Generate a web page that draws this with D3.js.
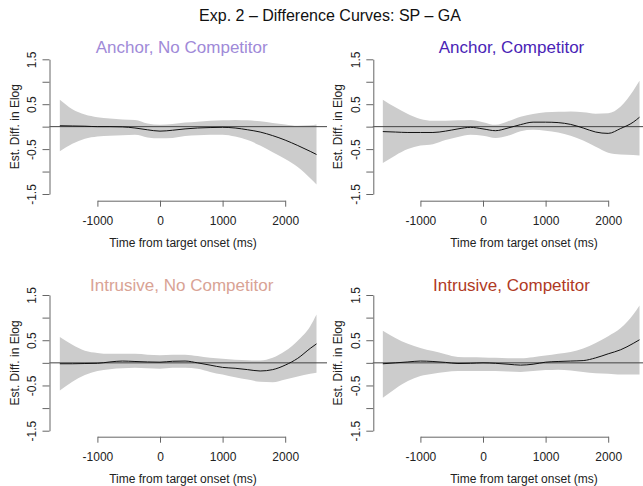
<!DOCTYPE html>
<html><head><meta charset="utf-8">
<script src="https://cdn.jsdelivr.net/npm/d3@7"></script>
<style>
body{margin:0;background:#fff;}
svg{display:block;}
text{font-family:"Liberation Sans",Arial,sans-serif;}
</style></head>
<body><svg id="chart" width="643" height="486"></svg>
<script>
// ---- data ----
const mainTitle = "Exp. 2 \u2013 Difference Curves: SP \u2013 GA";
const panelTitles = ["Anchor, No Competitor","Anchor, Competitor","Intrusive, No Competitor","Intrusive, Competitor"];
const panelColors = ["#a08ad8","#4a1fb6","#d9a395","#b03a25"];
const time = [-1600,-1400,-1200,-1000,-800,-600,-400,-200,0,200,400,600,800,1000,1200,1400,1600,1800,2000,2200,2400,2500];
// Anchor, No Competitor
const anFit = [0.02,0.015,0.01,0.0,0.0,-0.005,-0.03,-0.07,-0.1,-0.08,-0.05,-0.03,-0.02,-0.015,-0.03,-0.07,-0.12,-0.2,-0.3,-0.42,-0.55,-0.62];
const anUp  = [0.6,0.39,0.27,0.21,0.18,0.16,0.15,0.07,0.04,0.06,0.09,0.11,0.13,0.14,0.15,0.14,0.12,0.08,0.05,0.02,0.03,0.05];
const anLo  = [-0.55,-0.38,-0.27,-0.22,-0.2,-0.19,-0.18,-0.24,-0.26,-0.25,-0.21,-0.19,-0.18,-0.18,-0.22,-0.3,-0.42,-0.57,-0.72,-0.9,-1.15,-1.29];
// Anchor, Competitor
const acFit = [-0.11,-0.12,-0.13,-0.13,-0.13,-0.1,-0.05,-0.015,-0.05,-0.09,-0.03,0.045,0.1,0.1,0.09,0.05,-0.03,-0.12,-0.15,-0.04,0.1,0.21];
const acUp  = [0.6,0.43,0.28,0.17,0.13,0.13,0.14,0.15,0.1,0.04,0.12,0.22,0.28,0.32,0.33,0.34,0.32,0.29,0.3,0.45,0.8,1.02];
const acLo  = [-0.81,-0.64,-0.5,-0.42,-0.39,-0.3,-0.23,-0.18,-0.2,-0.25,-0.2,-0.1,-0.07,-0.09,-0.13,-0.2,-0.31,-0.45,-0.58,-0.62,-0.63,-0.64];
// Intrusive, No Competitor
const inFit = [-0.02,-0.02,-0.015,-0.01,0.02,0.04,0.03,0.02,0.015,0.035,0.04,0.0,-0.05,-0.1,-0.12,-0.15,-0.18,-0.15,-0.05,0.1,0.32,0.42];
const inUp  = [0.57,0.4,0.27,0.22,0.2,0.2,0.2,0.18,0.17,0.18,0.18,0.15,0.11,0.09,0.07,0.06,0.05,0.11,0.26,0.49,0.81,1.07];
const inLo  = [-0.61,-0.42,-0.27,-0.18,-0.14,-0.12,-0.11,-0.12,-0.13,-0.11,-0.11,-0.13,-0.2,-0.26,-0.32,-0.37,-0.42,-0.43,-0.37,-0.3,-0.24,-0.22];
// Intrusive, Competitor
const icFit = [-0.02,0.0,0.02,0.04,0.03,0.01,-0.015,-0.01,0.0,-0.01,-0.03,-0.05,-0.03,0.015,0.03,0.04,0.05,0.11,0.2,0.29,0.43,0.51];
const icUp  = [0.71,0.55,0.42,0.33,0.26,0.19,0.13,0.125,0.12,0.11,0.1,0.1,0.125,0.16,0.2,0.24,0.32,0.44,0.59,0.77,1.07,1.27];
const icLo  = [-0.77,-0.57,-0.4,-0.29,-0.24,-0.2,-0.18,-0.18,-0.18,-0.18,-0.19,-0.2,-0.18,-0.16,-0.15,-0.17,-0.2,-0.23,-0.24,-0.26,-0.26,-0.26];
const xTicks = [-1000,0,1000,2000];
const yTicks = [-1.5,-1,-0.5,0,0.5,1,1.5];
const yLabeled = [-1.5,-0.5,0.5,1.5];
const xLabel = "Time from target onset (ms)";
const yLabel = "Est. Diff. in Elog";

const series = [
  {fit:anFit, up:anUp, lo:anLo},
  {fit:acFit, up:acUp, lo:acLo},
  {fit:inFit, up:inUp, lo:inLo},
  {fit:icFit, up:icUp, lo:icLo}
];

// ---- layout ----
const cols = [
  {x0:160, axisX:49.5, left:49.5, right:327, titleX:181.7, xlabX:183, ylabX:15},
  {x0:483, axisX:373.3, left:372.8, right:650, titleX:511.5, xlabX:524, ylabX:338}
];
const rows = [
  {top:59.3, bottom:194, xAxisY:200.7, titleY:53},
  {top:295, bottom:430.7, xAxisY:436.7, titleY:291}
];
const pxPer1000 = 62.6;

const svg = d3.select("#chart");

svg.append("text").attr("x",330).attr("y",21).attr("text-anchor","middle")
  .style("font-size","16px").attr("fill","#111").text(mainTitle);

series.forEach((s,i)=>{
  const c = cols[i%2], r = rows[Math.floor(i/2)];
  const x = d3.scaleLinear().domain([0,1000]).range([c.x0, c.x0+pxPer1000]);
  const y = d3.scaleLinear().domain([-1.5,1.5]).range([r.bottom, r.top]);
  const g = svg.append("g");
  const pts = time.map((t,k)=>({t, f:s.fit[k], u:s.up[k], l:s.lo[k]}));

  g.append("path").datum(pts)
    .attr("d", d3.area().curve(d3.curveMonotoneX).x(d=>x(d.t)).y0(d=>y(d.l)).y1(d=>y(d.u)))
    .attr("fill","#cccccc").attr("stroke","none");

  g.append("line").attr("x1",c.left).attr("x2",c.right).attr("y1",y(0)).attr("y2",y(0))
    .attr("stroke","#444").attr("stroke-width",1);

  g.append("path").datum(pts)
    .attr("d", d3.line().curve(d3.curveMonotoneX).x(d=>x(d.t)).y(d=>y(d.f)))
    .attr("fill","none").attr("stroke","#111").attr("stroke-width",1);

  // y axis
  const ya = g.append("g").attr("transform",`translate(${c.axisX},0)`)
    .call(d3.axisLeft(y).tickValues(yTicks).tickSize(7).tickSizeOuter(0)
      .tickFormat(v=>yLabeled.includes(v)? d3.format(".1f")(v).replace("\u2212","-") : ""));
  ya.select(".domain").attr("stroke","#666");
  ya.selectAll(".tick line").attr("stroke","#666");
  ya.selectAll(".tick text").attr("x",0).attr("dy","0.35em").attr("text-anchor","middle")
    .attr("transform","translate(-18,0) rotate(-90)")
    .style("font-size","12px").style("font-family","Liberation Sans, Arial, sans-serif").attr("fill","#222");

  // x axis
  const xAxisScale = x.copy().domain([-1000,2000]).range([x(-1000), x(2000)]);
  const xa = g.append("g").attr("transform",`translate(0,${r.xAxisY})`)
    .call(d3.axisBottom(xAxisScale).tickValues(xTicks).tickSize(6).tickSizeOuter(0).tickPadding(10)
      .tickFormat(v=>String(v)));
  xa.select(".domain").attr("stroke","#666");
  xa.selectAll(".tick line").attr("stroke","#666");
  xa.selectAll(".tick text").style("font-size","12px")
    .style("font-family","Liberation Sans, Arial, sans-serif").attr("fill","#222");

  // labels
  g.append("text").attr("x",c.xlabX).attr("y",r.xAxisY+46).attr("text-anchor","middle")
    .style("font-size","12px").attr("fill","#222").text(xLabel);
  const ymid = y(0);
  g.append("text").attr("transform",`translate(${c.ylabX},${ymid}) rotate(-90)`)
    .attr("dy","0.35em").attr("text-anchor","middle")
    .style("font-size","12px").attr("fill","#222").text(yLabel);

  g.append("text").attr("x",c.titleX).attr("y",r.titleY).attr("text-anchor","middle")
    .style("font-size","17px").attr("fill",panelColors[i]).text(panelTitles[i]);
});
</script></body></html>
